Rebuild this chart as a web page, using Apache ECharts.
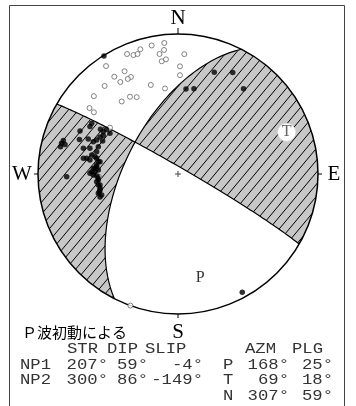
<!DOCTYPE html>
<html><head><meta charset="utf-8">
<script src="https://cdn.jsdelivr.net/npm/echarts@6/dist/echarts.min.js"></script>
<style>html,body{margin:0;padding:0;background:#fff}#c{width:356px;height:406px}</style>
</head><body><div id="c"></div>
<script>
// ---- nodal planes ----
const planeNames = ['NP1', 'NP2'];
const strikes = [207, 300];
const dips = [59, 86];
const slips = [-4, -149];
// ---- principal axes ----
const axisNames = ['P', 'T', 'N'];
const axisAzm = [168, 69, 307];
const axisPlg = [25, 18, 59];
// ---- first motions (lower hemisphere equal-area, x = east, y = north, unit circle) ----
const upMotions = [
  [-0.529,0.843],
  [0.259,0.726],[0.391,0.725],[0.057,0.607],[0.114,0.609],[0.468,0.609],
  [0.459,-0.845],
  [-0.616,0.362],[-0.629,0.339],[-0.700,0.307],[-0.554,0.319],[-0.534,0.302],[-0.511,0.318],
  [-0.486,0.291],[-0.534,0.275],[-0.557,0.264],[-0.538,0.236],[-0.704,0.246],[-0.641,0.250],
  [-0.605,0.231],[-0.581,0.243],[-0.819,0.239],[-0.832,0.219],[-0.807,0.211],[-0.839,0.195],
  [-0.676,0.184],[-0.629,0.184],[-0.569,0.195],[-0.581,0.159],[-0.616,0.136],[-0.593,0.124],
  [-0.676,0.112],[-0.652,0.112],[-0.629,0.100],[-0.581,0.112],[-0.569,0.088],[-0.557,0.088],
  [-0.581,0.064],[-0.581,0.052],[-0.605,0.041],[-0.593,0.041],[-0.569,0.029],[-0.593,0.016],
  [-0.616,0.016],[-0.629,0.005],[-0.605,-0.007],[-0.795,-0.019],[-0.581,-0.055],[-0.569,-0.043],
  [-0.569,-0.079],[-0.557,-0.079],[-0.557,-0.102],[-0.557,-0.114],[-0.562,-0.126],[-0.569,-0.138],
  [-0.545,-0.150],[-0.557,-0.164],[-0.571,-0.029],[-0.579,-0.014]
];
const downMotions = [
  [-0.364,0.857],[-0.318,0.850],[-0.289,0.857],[-0.269,0.891],[-0.188,0.918],[-0.098,0.936],
  [-0.100,0.886],[-0.132,0.857],[-0.116,0.805],[-0.086,0.819],[0.045,0.856],[0.014,0.769],
  [0.014,0.706],[-0.514,0.771],[-0.382,0.734],[-0.455,0.695],[-0.336,0.693],[-0.359,0.679],
  [-0.412,0.657],[-0.524,0.629],[-0.194,0.636],[-0.093,0.611],[-0.601,0.556],[-0.343,0.552],
  [-0.295,0.549],[-0.402,0.518],[-0.632,0.471],[-0.601,0.441],[-0.486,0.331],[-0.340,-0.940],
  [-0.564,-0.021]
];
const dirLabels = ['N', 'E', 'S', 'W'];
const dirAzimuths = [0, 90, 180, 270];
const caption = 'Ｐ波初動による';
const headers = ['STR', 'DIP', 'SLIP', 'AZM', 'PLG'];

// ---- geometry ----
const D = Math.PI / 180;
function vecAzPl(az, pl) { return [Math.cos(pl*D)*Math.sin(az*D), Math.cos(pl*D)*Math.cos(az*D), Math.sin(pl*D)]; }
function proj(v) {
  let [e, n, d] = v; const L = Math.hypot(e, n, d); e /= L; n /= L; d /= L;
  if (d < 0) { e = -e; n = -n; d = -d; }
  const pl = Math.asin(Math.min(1, d)); const az = Math.atan2(e, n);
  const r = Math.SQRT2 * Math.sin((Math.PI/2 - pl) / 2);
  return [r*Math.sin(az), r*Math.cos(az)];
}
function planeVec(k, t) {
  const s = vecAzPl(strikes[k], 0), dd = vecAzPl(strikes[k] + 90, dips[k]);
  return [0,1,2].map(i => Math.cos(t*D)*s[i] + Math.sin(t*D)*dd[i]);
}
const cross = (a,b) => [a[1]*b[2]-a[2]*b[1], a[2]*b[0]-a[0]*b[2], a[0]*b[1]-a[1]*b[0]];
const dot = (a,b) => a[0]*b[0]+a[1]*b[1]+a[2]*b[2];
const normals = [0,1].map(k => cross(vecAzPl(strikes[k],0), vecAzPl(strikes[k]+90, dips[k])));
function crossT(k) {
  const n = normals[1-k]; const f = t => dot(n, planeVec(k, t));
  let a = 0, b = 180, pa = 0, prev = f(0);
  for (let t = 0.5; t <= 180; t += 0.5) { const v = f(t); if (prev*v <= 0) { a = pa; b = t; break; } prev = v; pa = t; }
  for (let i = 0; i < 60; i++) { const m = (a+b)/2; if (f(a)*f(m) <= 0) b = m; else a = m; }
  return (a+b)/2;
}
const tc = [crossT(0), crossT(1)];
function planeArc(k, t0, t1) { const p = []; const N = 90; for (let i = 0; i <= N; i++) p.push(proj(planeVec(k, t0 + (t1-t0)*i/N))); return p; }
function primArc(a0, a1) { const p = []; const N = Math.max(2, Math.ceil(Math.abs(a1-a0))); for (let i = 0; i <= N; i++) { const a = (a0 + (a1-a0)*i/N)*D; p.push([Math.sin(a), Math.cos(a)]); } return p; }
const ends = [];
[0,1].forEach(k => { ends.push({k, t:0, az:((strikes[k]%360)+360)%360}); ends.push({k, t:180, az:((strikes[k]+180)%360+360)%360}); });
ends.sort((a,b) => a.az - b.az);
const Tv = vecAzPl(axisAzm[1], axisPlg[1]);
const Tsign = Math.sign(dot(normals[0], Tv) * dot(normals[1], Tv));
const regions = [];
for (let i = 0; i < 4; i++) {
  const e0 = ends[i], e1 = ends[(i+1)%4];
  let a0 = e0.az, a1 = e1.az; if (a1 <= a0) a1 += 360;
  const pts = [].concat(planeArc(e0.k, tc[e0.k], e0.t), primArc(a0, a1), planeArc(e1.k, e1.t, tc[e1.k]));
  const m = (a0 + a1) / 2 * D; const v = [Math.sin(m), Math.cos(m), 0.05];
  const sgn = Math.sign(dot(normals[0], v) * dot(normals[1], v));
  regions.push({pts, shaded: sgn === Tsign});
}

// ---- hatch pattern ----
function hatch() {
  const w = 10, h = 12; const c = document.createElement('canvas'); c.width = w; c.height = h;
  const g = c.getContext('2d'); g.fillStyle = '#c8c8c8'; g.fillRect(0, 0, w, h);
  g.strokeStyle = '#000'; g.lineWidth = 1;
  for (const o of [-w, 0, w]) { g.beginPath(); g.moveTo(o-1, h+1.2); g.lineTo(o+w+1, -1.2); g.stroke(); }
  return c;
}
const pattern = { image: hatch(), repeat: 'repeat' };

const chart = echarts.init(document.getElementById('c'), null, { renderer: 'canvas' });

function renderRegions(params, api) {
  const r = regions[params.dataIndex];
  return { type: 'polygon', shape: { points: r.pts.map(p => api.coord(p)) },
    style: { fill: r.shaded ? pattern : '#fff', stroke: null } };
}
function renderFrame(params, api) {
  const c = api.coord([0, 0]); const R = api.size([1, 1])[0];
  const ch = [];
  [0,1].forEach(k => ch.push({ type: 'polyline', shape: { points: planeArc(k, 0, 180).map(p => api.coord(p)) },
    style: { stroke: '#000', lineWidth: 1.2, fill: null } }));
  ch.push({ type: 'circle', shape: { cx: c[0], cy: c[1], r: R }, style: { fill: null, stroke: '#000', lineWidth: 1.5 } });
  dirAzimuths.forEach((az, i) => {
    const sx = Math.sin(az*D), sy = -Math.cos(az*D);
    const L = i === 0 ? 6 : 4;
    ch.push({ type: 'line', shape: { x1: c[0]+sx*R, y1: c[1]+sy*R, x2: c[0]+sx*(R+L), y2: c[1]+sy*(R+L) }, style: { stroke: '#000', lineWidth: 1 } });
    ch.push({ type: 'text', x: c[0]+sx*(R+16), y: c[1]+sy*(R+16)+(i===2?2:0),
      style: { text: dirLabels[i], font: '21px "Liberation Serif"', fill: '#000', align: 'center', verticalAlign: 'middle', textAlign: 'center', textVerticalAlign: 'middle' } });
  });
  ch.push({ type: 'line', shape: { x1: c[0]-3, y1: c[1], x2: c[0]+3, y2: c[1] }, style: { stroke: '#444', lineWidth: 1 } });
  ch.push({ type: 'line', shape: { x1: c[0], y1: c[1]-3, x2: c[0], y2: c[1]+3 }, style: { stroke: '#444', lineWidth: 1 } });
  return { type: 'group', children: ch };
}
function renderAxes(params, api) {
  const i = params.dataIndex;
  const p = api.coord(proj(vecAzPl(axisAzm[i], axisPlg[i])));
  const ch = [];
  if (axisNames[i] === 'T') ch.push({ type: 'circle', shape: { cx: p[0], cy: p[1], r: 9 }, style: { fill: '#fff', stroke: '#ddd', lineWidth: 0.8 } });
  ch.push({ type: 'text', x: p[0], y: p[1], style: { text: axisNames[i], font: '16px "Liberation Serif"', fill: axisNames[i]==='T' ? '#666' : '#333',
    align: 'center', verticalAlign: 'middle', textAlign: 'center', textVerticalAlign: 'middle' } });
  return { type: 'group', children: ch };
}

// ---- table texts ----
const mono = '15px "Liberation Mono"';
const SX = 1.15;
const graphic = [{ type: 'rect', shape: { x: 9.5, y: 5.5, width: 335, height: 420 }, style: { fill: null, stroke: '#444', lineWidth: 1 }, z: 0 }];
function tx(text, x, y, align) {
  graphic.push({ type: 'text', x, y, scaleX: SX, z: 10,
    style: { text, font: mono, fill: '#333', align, verticalAlign: 'middle', textAlign: align, textVerticalAlign: 'middle' } });
}
graphic.push({ type: 'text', x: 22, y: 332, z: 10, style: { text: caption, font: '15px "Noto Sans CJK JP"', fill: '#000', align: 'left', verticalAlign: 'middle', textAlign: 'left', textVerticalAlign: 'middle' } });
const headerX = [67, 107, 145, 245, 292];
headers.forEach((h, i) => tx(h, headerX[i], 349, 'left'));
const rowY = [365, 380.5, 396];
const deg = v => v + '°';
planeNames.forEach((n, k) => {
  tx(n, 20, rowY[k], 'left');
  tx(deg(strikes[k]), 108, rowY[k], 'right');
  tx(deg(dips[k]), 148, rowY[k], 'right');
  tx(deg(slips[k]), 203, rowY[k], 'right');
});
axisNames.forEach((n, i) => {
  tx(n, 223, rowY[i], 'left');
  tx(deg(axisAzm[i]), 289, rowY[i], 'right');
  tx(deg(axisPlg[i]), 333, rowY[i], 'right');
});

chart.setOption({
  animation: false,
  grid: { left: 38, top: 34, width: 280, height: 280 },
  xAxis: { type: 'value', min: -1, max: 1, show: false },
  yAxis: { type: 'value', min: -1, max: 1, show: false },
  graphic,
  series: [
    { type: 'custom', silent: true, z: 1, clip: false, renderItem: renderRegions, data: regions.map(() => [0, 0]) },
    { type: 'custom', silent: true, z: 2, clip: false, renderItem: renderFrame, data: [[0, 0]] },
    { type: 'scatter', silent: true, z: 3, symbol: 'circle', symbolSize: 5, data: downMotions,
      itemStyle: { color: '#fff', borderColor: '#555', borderWidth: 0.9 } },
    { type: 'scatter', silent: true, z: 4, symbol: 'circle', symbolSize: 5.5, data: upMotions, itemStyle: { color: '#000' } },
    { type: 'custom', silent: true, z: 5, clip: false, renderItem: renderAxes, data: axisNames.slice(0, 2).map(() => [0, 0]) }
  ]
});
</script></body></html>
